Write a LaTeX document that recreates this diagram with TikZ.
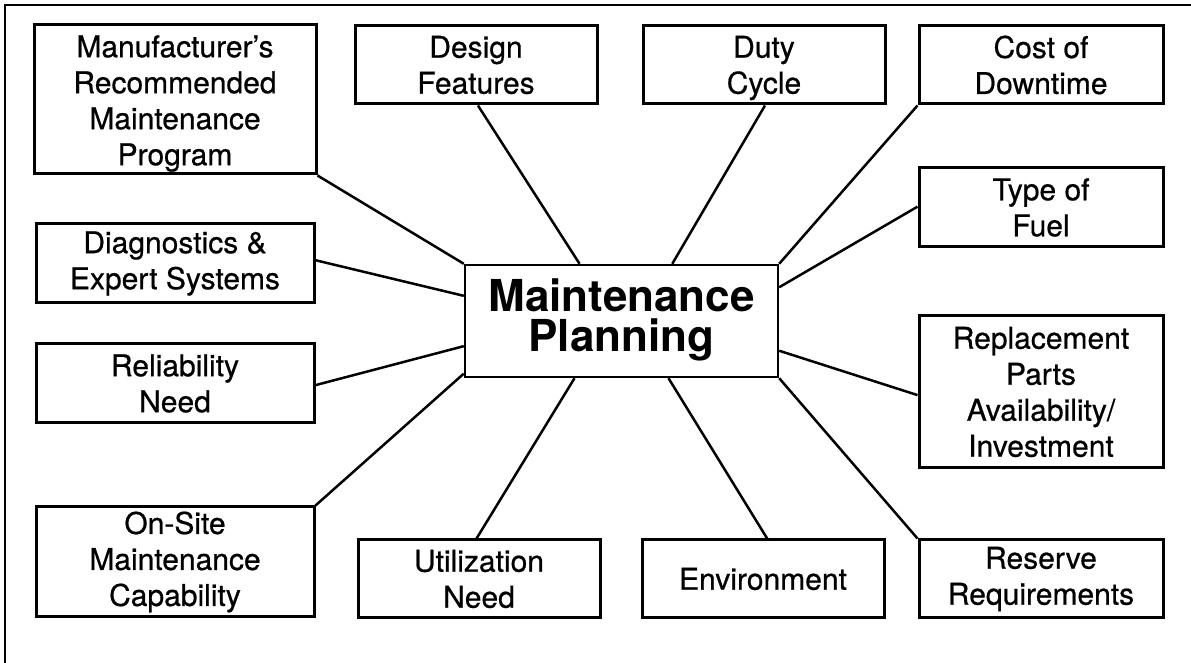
\documentclass[tikz,border=0pt]{standalone}
\usepackage{fontspec}
\setmainfont{TeX Gyre Heros}
\newfontfamily\lblfont{TeX Gyre Heros}[RawFeature={embolden=0.6}]
\usetikzlibrary{calc}
\tikzset{
  box/.style={draw=black, line width=1.5pt, rectangle, inner sep=0pt, fill=white},
  hubbox/.style={draw=black, line width=1.2pt, rectangle, inner sep=0pt, fill=white},
  lbl/.style={align=center, inner sep=0pt, font=\lblfont\fontsize{15pt}{18pt}\selectfont},
  hublbl/.style={align=center, inner sep=0pt, font=\fontsize{22pt}{19.6pt}\selectfont\bfseries},
  link/.style={draw=black, line width=1.25pt},
  frame/.style={draw=black, line width=1.1pt}
}
\begin{document}
\begin{tikzpicture}[x=0.5pt, y=-0.5pt]
\useasboundingbox (0,0) rectangle (1191,663);
% partial frame
\coordinate (fa) at (1191,5);
\coordinate (fb) at (5,5);
\coordinate (fc) at (5,663);
\draw[frame] (fa) -- (fb) -- (fc);

% hub
\node[hubbox, minimum width=156.5pt, minimum height=56pt] (hub) at (621.5,321) {};

% boxes
\node[box, minimum width=141pt, minimum height=74.5pt] (mfr) at (175,99.5) {};
\node[box, minimum width=139pt, minimum height=39.5pt] (diag) at (175,263.5) {};
\node[box, minimum width=139pt, minimum height=39.5pt] (rel) at (175,383.5) {};
\node[box, minimum width=139pt, minimum height=55pt] (ons) at (175,562) {};
\node[box, minimum width=121pt, minimum height=39pt] (dsg) at (476,65) {};
\node[box, minimum width=121pt, minimum height=39pt] (duty) at (764,65) {};
\node[box, minimum width=122pt, minimum height=39pt] (cost) at (1041,65) {};
\node[box, minimum width=122pt, minimum height=39.5pt] (fuel) at (1041,207.5) {};
\node[box, minimum width=122pt, minimum height=76pt] (repl) at (1041,392) {};
\node[box, minimum width=122pt, minimum height=39pt] (resv) at (1041,579) {};
\node[box, minimum width=121pt, minimum height=39pt] (env) at (763,579) {};
\node[box, minimum width=121pt, minimum height=39pt] (util) at (479,579) {};

% labels
\node[hublbl] (hubt) at ($(hub.center)+(0,-1)$) {Maintenance\\Planning};
\node[lbl] (mfrt) at ($(mfr.center)+(0,4)$) {Manufacturer’s\\Recommended\\Maintenance\\Program};
\node[lbl] (diagt) at (diag.center) {Diagnostics \&\\Expert Systems};
\node[lbl] (relt) at (rel.center) {Reliability\\Need};
\node[lbl] (onst) at (ons.center) {On-Site\\Maintenance\\Capability};
\node[lbl] (dsgt) at (dsg.center) {Design\\Features};
\node[lbl] (dutyt) at ($(duty.center)+(0,3)$) {Duty\\Cycle};
\node[lbl] (costt) at (cost.center) {Cost of\\Downtime};
\node[lbl] (fuelt) at (fuel.center) {Type of\\Fuel};
\node[lbl] (replt) at (repl.center) {Replacement\\Parts\\Availability/\\Investment};
\node[lbl] (resvt) at (resv.center) {Reserve\\Requirements};
\node[lbl] (envt) at (env.center) {Environment};
\node[lbl] (utilt) at (util.center) {Utilization\\Need};

% connectors
\draw[link] (mfr.south east) -- (hub.north west);
\draw[link] ($(diag.north east)!0.46!(diag.south east)$) -- ($(hub.north west)!0.28!(hub.south west)$);
\draw[link] ($(rel.north east)!0.52!(rel.south east)$) -- ($(hub.north west)!0.72!(hub.south west)$);
\draw[link] (ons.north east) -- ($(hub.north west)!0.96!(hub.south west)$);
\draw[link] ($(dsg.south west)!0.508!(dsg.south east)$) -- ($(hub.north west)!0.367!(hub.north east)$);
\draw[link] ($(duty.south west)!0.504!(duty.south east)$) -- ($(hub.north west)!0.661!(hub.north east)$);
\draw[link] (cost.south west) -- (hub.north east);
\draw[link] ($(fuel.north west)!0.49!(fuel.south west)$) -- ($(hub.north east)!0.205!(hub.south east)$);
\draw[link] ($(repl.north west)!0.52!(repl.south west)$) -- ($(hub.north east)!0.76!(hub.south east)$);
\draw[link] (resv.north west) -- (hub.south east);
\draw[link] ($(env.north west)!0.517!(env.north east)$) -- ($(hub.south west)!0.649!(hub.south east)$);
\draw[link] ($(util.north west)!0.49!(util.north east)$) -- ($(hub.south west)!0.351!(hub.south east)$);
\end{tikzpicture}
\end{document}
